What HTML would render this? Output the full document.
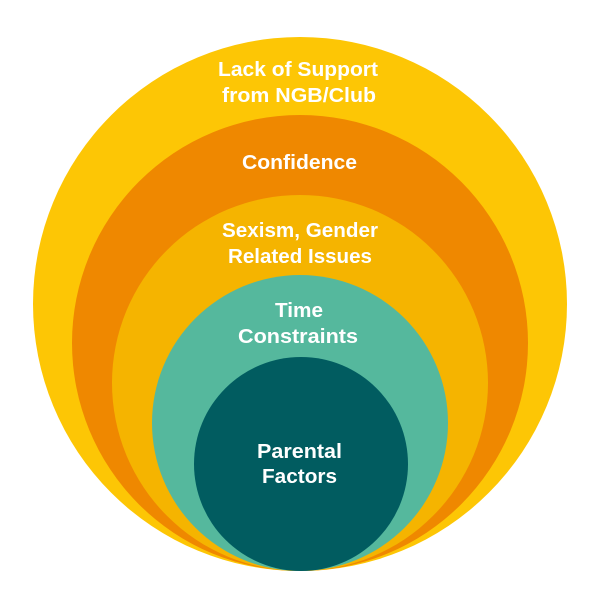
<!DOCTYPE html>
<html>
<head>
<meta charset="utf-8">
<style>
  html, body { margin: 0; padding: 0; background: #ffffff; }
  svg { display: block; }
  text { font-family: "Liberation Sans", "DejaVu Sans", sans-serif; font-weight: bold; fill: #ffffff; font-size: 20px; }
</style>
</head>
<body>
<svg width="600" height="600" viewBox="0 0 600 600" xmlns="http://www.w3.org/2000/svg">
  <rect x="0" y="0" width="600" height="600" fill="#ffffff"/>
  <circle cx="300" cy="304" r="267" fill="#FDC605"/>
  <circle cx="300" cy="343" r="228" fill="#EF8800"/>
  <circle cx="300" cy="383" r="188" fill="#F5B400"/>
  <circle cx="300" cy="423" r="148" fill="#55B89D"/>
  <circle cx="301" cy="464" r="107" fill="#015C60"/>

  <text x="218" y="76" textLength="160" lengthAdjust="spacingAndGlyphs">Lack of Support</text>
  <text x="222" y="102" textLength="154" lengthAdjust="spacingAndGlyphs">from NGB/Club</text>

  <text x="242" y="169" textLength="115" lengthAdjust="spacingAndGlyphs">Confidence</text>

  <text x="222" y="237" textLength="156" lengthAdjust="spacingAndGlyphs">Sexism, Gender</text>
  <text x="228" y="263" textLength="144" lengthAdjust="spacingAndGlyphs">Related Issues</text>

  <text x="275" y="317" textLength="48" lengthAdjust="spacingAndGlyphs">Time</text>
  <text x="238" y="343" textLength="120" lengthAdjust="spacingAndGlyphs">Constraints</text>

  <text x="257" y="458" textLength="85" lengthAdjust="spacingAndGlyphs">Parental</text>
  <text x="262" y="483" textLength="75" lengthAdjust="spacingAndGlyphs">Factors</text>
</svg>
</body>
</html>
